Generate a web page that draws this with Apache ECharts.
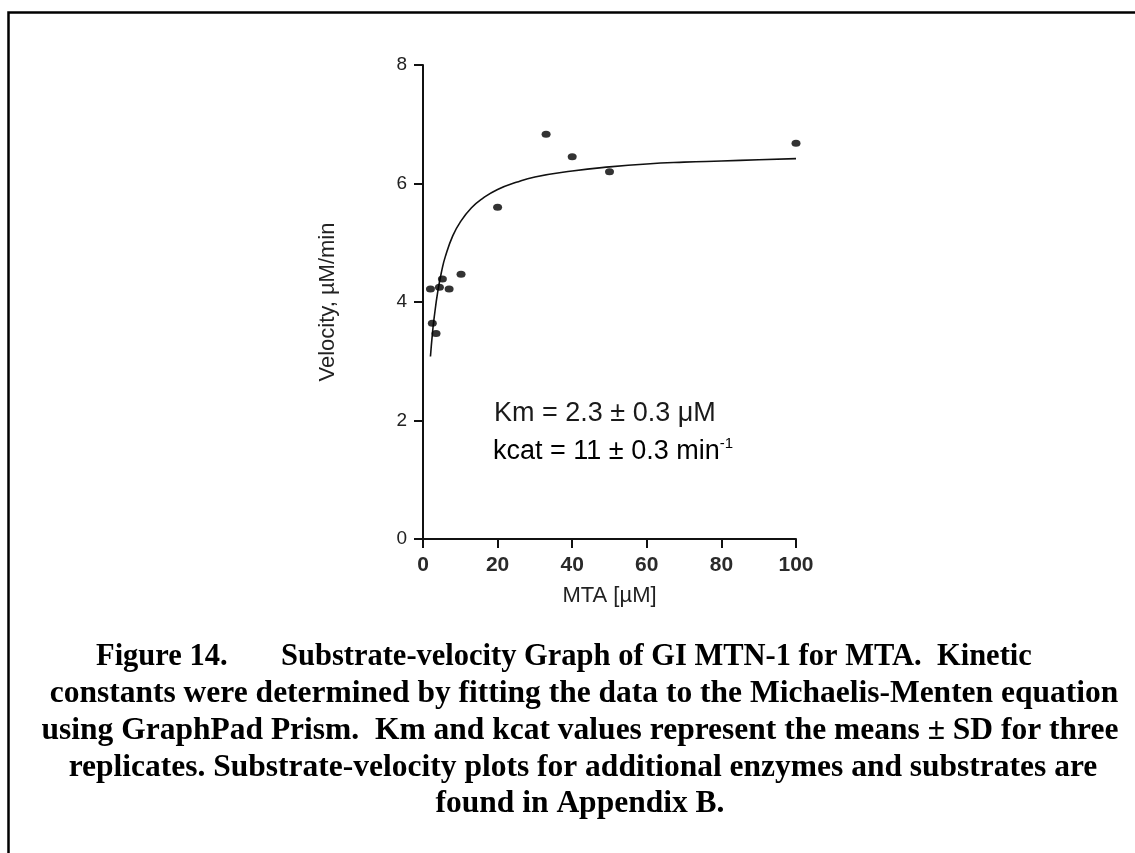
<!DOCTYPE html>
<html>
<head>
<meta charset="utf-8">
<script src="https://cdn.jsdelivr.net/npm/echarts@6/dist/echarts.min.js"></script>
<style>
html,body{margin:0;padding:0;background:#fff;}
#chart{width:1135px;height:853px;}
</style>
</head>
<body>
<div id="chart"></div>
<script>
// Observed data points: substrate concentration [µM] and velocity [µM/min]
var substrateConc = [2, 2.5, 3.5, 4.4, 5.2, 7, 10.2, 20, 33, 40, 50, 100];
var velocity      = [4.22, 3.64, 3.47, 4.25, 4.39, 4.22, 4.47, 5.60, 6.83, 6.45, 6.20, 6.68];

// Fitted curve (x, y)
var curveX = [2, 2.5, 3, 4, 5, 6, 8, 10, 13, 16, 20, 25, 30, 40, 50, 60, 70, 80, 90, 100];
var curveY = [3.08, 3.45, 3.74, 4.19, 4.52, 4.77, 5.12, 5.35, 5.59, 5.75, 5.90, 6.02, 6.11, 6.21, 6.28, 6.33, 6.36, 6.38, 6.40, 6.42];

var xTicks = [0, 20, 40, 60, 80, 100];
var yTicks = [0, 2, 4, 6, 8];

var xAxisTitle = 'MTA [\u00b5M]';
var yAxisTitle = 'Velocity, \u00b5M/min';
var annotLine1 = 'Km = 2.3 \u00b1 0.3 \u03bcM';
var annotLine2 = 'kcat = 11 \u00b1 0.3 min';
var annotSup = '-1';

var captionLines = [
  'constants were determined by fitting the data to the Michaelis-Menten equation',
  'using GraphPad Prism.  Km and kcat values represent the means \u00b1 SD for three',
  'replicates. Substrate-velocity plots for additional enzymes and substrates are',
  'found in Appendix B.'
];
var captionHead = 'Figure 14.';
var captionHeadRest = 'Substrate-velocity Graph of GI MTN-1 for MTA.  Kinetic';

var scatterData = substrateConc.map(function (x, i) { return [x, velocity[i]]; });
var curveData = curveX.map(function (x, i) { return [x, curveY[i]]; });

var chart = echarts.init(document.getElementById('chart'));
var sans = 'Arial, "Liberation Sans", Helvetica, sans-serif';
var serif = '"Times New Roman", "Liberation Serif", serif';

var capFont = 31.5;
var capFont1 = 30.5;
var capBaselines = [667, 704, 741, 778, 814];
var capCenters = [0, 584, 580, 583, 580];
var capStyle = function (t, align, fs) {
  return {text: t, font: 'bold ' + (fs || capFont) + 'px ' + serif, fill: '#000', align: align, verticalAlign: 'middle'};
};
var graphics = [
  {type: 'rect', shape: {x: 8.5, y: 12.5, width: 1300, height: 1000},
   style: {fill: 'none', stroke: '#000', lineWidth: 2.5}, silent: true},
  {type: 'text', x: 494, y: 414, style: {text: annotLine1, font: '27px ' + sans, fill: '#1a1a1a', verticalAlign: 'middle', align: 'left'}},
  {type: 'text', x: 493, y: 452, style: {
      text: '{a|' + annotLine2 + '}{s|' + annotSup + '}',
      verticalAlign: 'middle', align: 'left',
      rich: {
        a: {fontSize: 27, fontFamily: sans, color: '#1a1a1a', lineHeight: 31},
        s: {fontSize: 15, fontFamily: sans, color: '#1a1a1a', verticalAlign: 'top', lineHeight: 31}
      }}},
  {type: 'text', x: 96, y: capBaselines[0] - 10, style: capStyle(captionHead, 'left', capFont1)},
  {type: 'text', x: 281, y: capBaselines[0] - 10, style: capStyle(captionHeadRest, 'left', capFont1)}
];
captionLines.forEach(function (t, i) {
  graphics.push({type: 'text', x: capCenters[i + 1], y: capBaselines[i + 1] - 10, style: capStyle(t, 'center')});
});

chart.setOption({
  animation: false,
  backgroundColor: '#fff',
  grid: {left: 423, top: 65, width: 373, height: 474, containLabel: false},
  xAxis: {
    type: 'value', min: 0, max: 100, interval: 20,
    name: xAxisTitle, nameLocation: 'middle', nameGap: 46,
    nameTextStyle: {fontSize: 22, fontFamily: sans, color: '#222'},
    axisLine: {show: true, onZero: false, lineStyle: {color: '#111', width: 2}},
    axisTick: {show: true, length: 9, lineStyle: {color: '#111', width: 2}},
    axisLabel: {fontSize: 21, fontFamily: sans, color: '#2a2a2a', fontWeight: 'bold', margin: 16,
      formatter: function (v) { return xTicks.indexOf(v) >= 0 ? String(v) : ''; }},
    splitLine: {show: false}
  },
  yAxis: {
    type: 'value', min: 0, max: 8, interval: 2,
    name: yAxisTitle, nameLocation: 'middle', nameGap: 84, nameRotate: 90,
    nameTextStyle: {fontSize: 22, fontFamily: sans, color: '#222'},
    axisLine: {show: true, onZero: false, lineStyle: {color: '#111', width: 2}},
    axisTick: {show: true, length: 9, lineStyle: {color: '#111', width: 2}},
    axisLabel: {fontSize: 19, fontFamily: sans, color: '#222', margin: 16,
      formatter: function (v) { return yTicks.indexOf(v) >= 0 ? String(v) : ''; }},
    splitLine: {show: false}
  },
  series: [
    {type: 'line', data: curveData, smooth: true, showSymbol: false, symbol: 'none',
     lineStyle: {color: '#111', width: 1.6}, z: 2},
    {type: 'scatter', data: scatterData, symbol: 'circle', symbolSize: [9, 7],
     itemStyle: {color: '#000'}, z: 3}
  ],
  graphic: graphics
});
</script>
</body>
</html>
